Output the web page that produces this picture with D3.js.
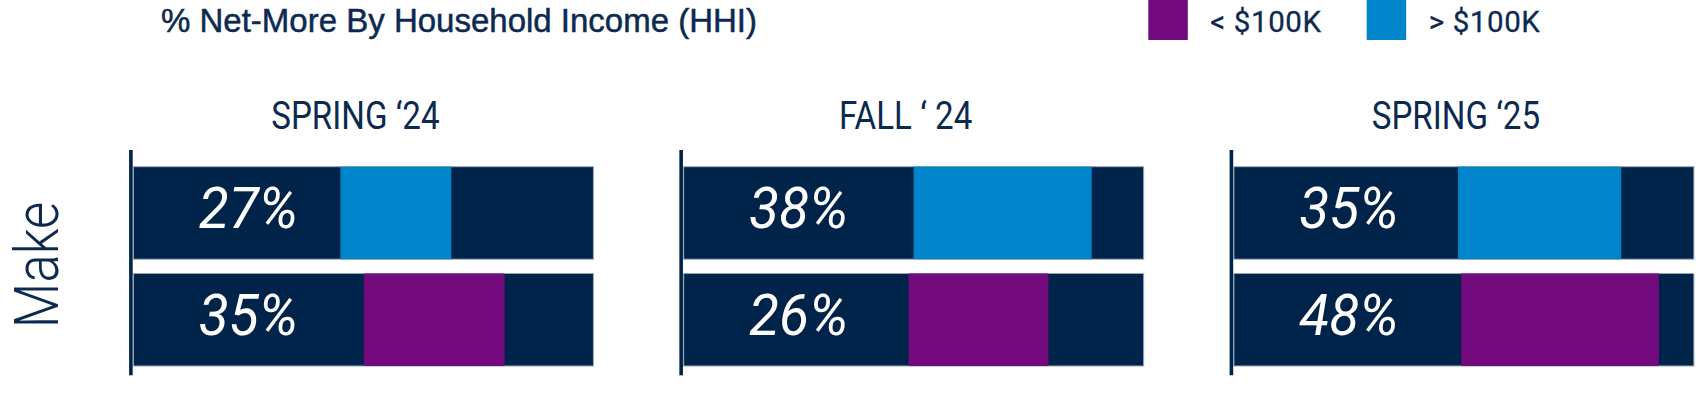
<!DOCTYPE html>
<html><head><meta charset="utf-8">
<script src="https://cdn.jsdelivr.net/npm/d3@7"></script>
<style>html,body{margin:0;padding:0;background:#fff;overflow:hidden}</style>
</head><body>
<svg id="chart" width="1696" height="414"></svg>
<script>
// ---- data ----
const periods = ["SPRING \u201824", "FALL \u2018 24", "SPRING \u201825"];
const groups = ["> $100K", "< $100K"];
const highValues = [27, 38, 35];      // > $100K (top row)
const lowValues = [35, 26, 48];       // < $100K (bottom row)
// highlighted segment extent along each bar (0-100 of bar length)
const highSegStart = [45.0, 50.0, 48.7];
const highSegEnd = [69.1, 88.7, 84.2];
const lowSegStart = [50.1, 48.9, 49.4];
const lowSegEnd = [80.7, 79.3, 92.4];
const legendLabels = ["< $100K", "> $100K"];
const rowLabel = "Make";
const titleText = "% Net-More By Household Income (HHI)";

// ---- styles ----
const navy = "#00234a", textNavy = "#0c2a50", blue = "#0085ca", purple = "#720a7e";
const colorScale = d3.scaleOrdinal().domain(groups).range([blue, purple]);

const svg = d3.select("#chart");

// title
svg.append("text").attr("x", 161).attr("y", 31.7)
  .attr("font-family", "'Liberation Sans', Arial, sans-serif").attr("font-size", 33)
  .attr("fill", textNavy).attr("stroke", textNavy).attr("stroke-width", 0.5)
  .text(titleText);

// legend
const legendX = d3.scalePoint().domain(legendLabels).range([1148.3, 1366.7]);
const legendColor = d3.scaleOrdinal().domain(legendLabels).range([purple, blue]);
const lg = svg.append("g").selectAll("g").data(legendLabels).join("g")
  .attr("transform", d => `translate(${legendX(d)},0)`);
lg.append("rect").attr("x", 0).attr("y", -2).attr("width", 39.5).attr("height", 42)
  .attr("fill", d => legendColor(d));
lg.append("text").attr("x", 62).attr("y", 31.7)
  .attr("font-family", "Roboto, sans-serif").attr("font-size", 29.5)
  .attr("letter-spacing", 0.6).attr("fill", textNavy)
  .attr("stroke", textNavy).attr("stroke-width", 0.3).text(d => d);

// row label
svg.append("text").attr("transform", "translate(58,265) rotate(-90) scale(0.85,1)")
  .attr("text-anchor", "middle").attr("font-family", "Roboto, sans-serif")
  .attr("font-weight", 300).attr("font-size", 62).attr("fill", textNavy).text(rowLabel);

// panels
const panelX = d3.scalePoint().domain(periods).range([130.9, 1231.4]);
const y = d3.scaleBand().domain(groups).range([166.7, 366]).paddingInner(0.134);
const barLen = 460;

periods.forEach((p, i) => {
  const ax = panelX(p);
  const x = d3.scaleLinear().domain([0, 100]).range([ax + 2.5, ax + 2.5 + barLen]);
  const g = svg.append("g");
  const rows = [
    {grp: groups[0], value: highValues[i], s: highSegStart[i], e: highSegEnd[i]},
    {grp: groups[1], value: lowValues[i], s: lowSegStart[i], e: lowSegEnd[i]}
  ];
  // panel title
  g.append("g").attr("transform", `translate(${x(50) - 8},129.3) scale(0.85,1)`)
    .append("text").attr("text-anchor", "middle")
    .attr("font-family", "Roboto, sans-serif").attr("font-size", 39)
    .attr("fill", textNavy).text(p);
  // background bars
  g.selectAll("rect.bg").data(rows).join("rect").attr("class", "bg")
    .attr("x", x(0)).attr("width", x(100) - x(0))
    .attr("y", d => y(d.grp)).attr("height", y.bandwidth())
    .attr("fill", navy).attr("stroke", "#9aa6b8").attr("stroke-width", 1);
  // highlighted segments
  g.selectAll("rect.seg").data(rows).join("rect").attr("class", "seg")
    .attr("x", d => x(d.s)).attr("width", d => x(d.e) - x(d.s))
    .attr("y", d => y(d.grp)).attr("height", y.bandwidth())
    .attr("fill", d => colorScale(d.grp));
  // axis line
  g.append("line").attr("x1", ax).attr("x2", ax)
    .attr("y1", y.range()[0] - 16.7).attr("y2", y.range()[1] + 9.3)
    .attr("stroke", navy).attr("stroke-width", 3.6);
  // value labels
  g.selectAll("g.lbl").data(rows).join("g").attr("class", "lbl")
    .attr("transform", d => `translate(${x(25)},${y(d.grp) + y.bandwidth() / 2 + 15}) scale(0.95,1)`)
    .append("text").attr("text-anchor", "middle")
    .attr("font-family", "Roboto, sans-serif").attr("font-style", "italic")
    .attr("font-weight", 400).attr("font-size", 58).attr("fill", "#fff")
    .text(d => d.value + "%");
});
</script>
</body></html>
